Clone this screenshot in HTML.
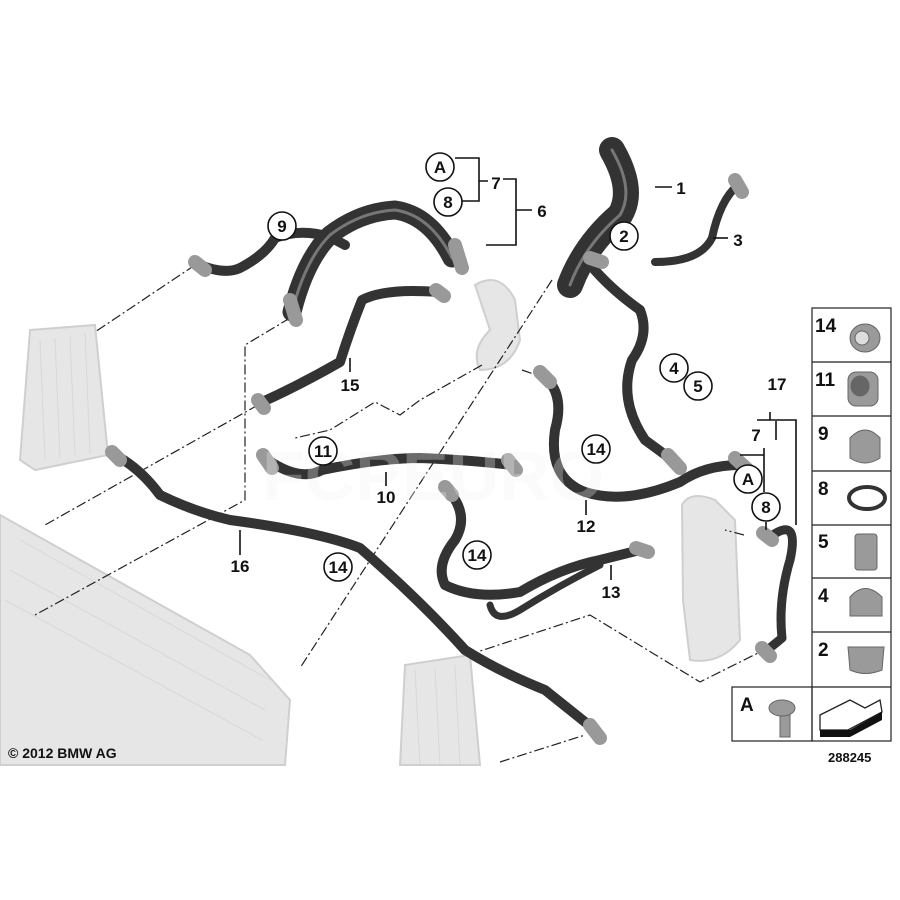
<!DOCTYPE html>
<html><head><meta charset="utf-8"><style>
html,body{margin:0;padding:0;background:#fff}
svg{display:block}
text{font-family:"Liberation Sans",Arial,sans-serif;font-weight:bold;fill:#111}
</style></head><body>
<svg width="900" height="900" viewBox="0 0 900 900" xmlns="http://www.w3.org/2000/svg">
<rect width="900" height="900" fill="#fff"/>
<g fill="#e6e6e6" stroke="#cfcfcf" stroke-width="2">
<polygon points="30,330 95,325 108,455 35,470 20,460"/>
<polygon points="0,515 250,655 290,700 285,765 0,765"/>
<polygon points="405,665 470,655 480,765 400,765"/>
<path d="M682,505 Q690,490 715,500 L735,520 L740,640 Q720,665 690,660 L683,600 Z"/>
<path d="M475,285 Q500,270 515,300 L520,340 Q510,370 480,370 Q470,350 490,330 Z"/>
</g>
<g stroke="#d8d8d8" stroke-width="1" fill="none">
<path d="M40,340 L45,460 M55,338 L60,458 M70,336 L75,456 M85,334 L90,454"/>
<path d="M20,540 L270,680 M10,570 L265,710 M5,600 L262,740"/>
<path d="M415,670 L420,765 M435,668 L440,765 M455,665 L460,765"/>
</g>
<g stroke="#222" stroke-width="1.2" fill="none" stroke-dasharray="10,3,2,3">
<path d="M195,265 L95,332"/>
<path d="M290,318 L245,345 L245,500 L35,615"/>
<path d="M258,405 L45,525"/>
<path d="M552,280 L300,668"/>
<path d="M482,365 L420,400 L400,415 L375,402 L330,430 L295,438"/>
<path d="M468,655 L590,615 L700,682 L768,648"/>
<path d="M500,762 L585,735"/>
<path d="M744,535 L725,530"/>
<path d="M522,370 L545,378"/>
</g>
<g fill="none" stroke-linecap="round" stroke-linejoin="round">
<g stroke="#333">
<path d="M612,150 Q635,190 620,215 Q585,245 570,285" stroke-width="26"/>
<path d="M200,265 Q225,275 240,268 Q265,255 275,238 Q300,228 330,237 L345,245" stroke-width="10"/>
<path d="M292,312 Q305,260 330,235 Q360,212 395,210 Q430,215 452,258" stroke-width="19"/>
<path d="M260,403 Q300,385 340,362 Q350,330 362,300 Q385,288 438,292" stroke-width="10"/>
<path d="M738,185 Q720,200 712,238 Q700,262 655,262" stroke-width="8"/>
<path d="M585,258 Q605,285 640,310 Q650,335 632,360 Q618,400 645,440 L675,462" stroke-width="10"/>
<path d="M545,377 Q565,395 555,430 Q548,478 585,492 Q625,505 680,482 Q705,465 740,465" stroke-width="10"/>
<path d="M268,460 Q300,482 322,470 Q380,458 420,458 Q470,460 512,465" stroke-width="10"/>
<path d="M115,455 Q140,468 160,495 Q195,512 230,520 Q320,532 360,548 Q420,600 465,650 Q500,672 545,690 L595,730" stroke-width="10"/>
<path d="M448,490 Q470,515 455,540 Q435,565 445,585 Q475,600 520,592 Q560,568 600,560 L640,550" stroke-width="10"/>
<path d="M490,605 Q495,625 520,610 Q560,585 600,565" stroke-width="7"/>
<path d="M770,537 Q800,515 790,560 Q778,600 782,638 L765,652" stroke-width="9"/>
</g>
<g stroke="#777" stroke-width="3">
<path d="M612,150 Q635,190 620,215 Q585,245 570,285"/>
<path d="M292,312 Q305,260 330,235 Q360,212 395,210 Q430,215 452,258"/>
</g>
<g stroke="#999" stroke-width="14">
<path d="M590,258 L602,262"/><path d="M455,245 L462,268"/><path d="M290,300 L296,320"/>
<path d="M735,180 L742,192"/><path d="M668,455 L680,468"/><path d="M735,458 L748,470"/>
<path d="M540,372 L550,382"/><path d="M263,455 L272,468"/><path d="M508,460 L516,470"/>
<path d="M112,452 L120,460"/><path d="M590,725 L600,738"/><path d="M445,487 L452,495"/>
<path d="M636,548 L648,552"/><path d="M763,533 L772,540"/><path d="M762,648 L770,656"/>
<path d="M195,262 L205,270"/><path d="M258,400 L264,408"/><path d="M436,290 L444,296"/>
</g>
</g>
<text x="262" y="500" font-size="70" font-weight="normal" style="fill:#f2f2f2;fill-opacity:0.3">FCPEURO</text>
<g stroke="#111" stroke-width="1.6" fill="none">
<path d="M455,158 L479,158 L479,201 L462,201 M479,181 L488,181"/>
<path d="M503,179 L516,179 L516,245 L486,245 M516,210 L532,210"/>
<path d="M655,187 L672,187"/><path d="M713,238 L728,238"/>
<path d="M350,358 L350,372"/><path d="M386,472 L386,486"/><path d="M586,500 L586,515"/>
<path d="M240,530 L240,555"/><path d="M611,565 L611,580"/>
<path d="M770,412 L770,420"/>
<path d="M757,420 L796,420 L796,525"/>
<path d="M740,455 L764,455 L764,492 M764,455 L764,448"/>
<path d="M776,421 L776,440"/>
<path d="M766,522 L766,530"/>
</g>
<g fill="#fff" stroke="#111" stroke-width="1.6">
<circle cx="440" cy="167" r="14"/><circle cx="448" cy="202" r="14"/>
<circle cx="282" cy="226" r="14"/><circle cx="624" cy="236" r="14"/>
<circle cx="674" cy="368" r="14"/><circle cx="698" cy="386" r="14"/>
<circle cx="323" cy="451" r="14"/><circle cx="596" cy="449" r="14"/>
<circle cx="748" cy="479" r="14"/><circle cx="766" cy="507" r="14"/>
<circle cx="477" cy="555" r="14"/><circle cx="338" cy="567" r="14"/>
</g>
<g font-size="17" text-anchor="middle">
<text x="440" y="173">A</text><text x="448" y="208">8</text>
<text x="282" y="232">9</text><text x="624" y="242">2</text>
<text x="674" y="374">4</text><text x="698" y="392">5</text>
<text x="323" y="457">11</text><text x="596" y="455">14</text>
<text x="748" y="485">A</text><text x="766" y="513">8</text>
<text x="477" y="561">14</text><text x="338" y="573">14</text>
<text x="496" y="189">7</text><text x="542" y="217">6</text>
<text x="681" y="194">1</text><text x="738" y="246">3</text>
<text x="350" y="391">15</text><text x="386" y="503">10</text>
<text x="586" y="532">12</text><text x="240" y="572">16</text>
<text x="611" y="598">13</text><text x="777" y="390">17</text>
<text x="756" y="441">7</text>
</g>
<g fill="none" stroke="#222" stroke-width="1.2">
<rect x="812" y="308" width="79" height="433"/>
<rect x="732" y="687" width="80" height="54"/>
<path d="M812,362 H891 M812,416 H891 M812,471 H891 M812,525 H891 M812,578 H891 M812,632 H891 M812,687 H891"/>
</g>
<g font-size="19">
<text x="815" y="332">14</text><text x="815" y="386">11</text><text x="818" y="440">9</text>
<text x="818" y="495">8</text><text x="818" y="548">5</text><text x="818" y="602">4</text>
<text x="818" y="656">2</text><text x="740" y="711">A</text>
</g>
<g fill="#9a9a9a" stroke="#666" stroke-width="1">
<ellipse cx="865" cy="338" rx="15" ry="14"/><ellipse cx="862" cy="338" rx="7" ry="7" fill="#ddd"/>
<rect x="848" y="372" width="30" height="34" rx="8"/><ellipse cx="860" cy="386" rx="9" ry="10" fill="#666"/>
<path d="M850,438 Q865,422 880,438 L880,458 Q865,468 850,458 Z"/>
<rect x="855" y="534" width="22" height="36" rx="3"/>
<path d="M850,597 Q865,580 882,597 L882,616 L850,616 Z"/>
<path d="M848,647 L884,647 L882,670 Q865,677 850,670 Z"/>
<rect x="780" y="715" width="10" height="22"/><ellipse cx="782" cy="708" rx="13" ry="8"/>
</g>
<ellipse cx="867" cy="498" rx="18" ry="11" fill="none" stroke="#333" stroke-width="4"/>
<g>
<polygon points="820,715 850,700 865,708 880,700 882,712 848,730 820,730" fill="#fff" stroke="#222" stroke-width="1.3"/>
<polygon points="820,730 850,730 850,737 820,737" fill="#111"/>
<polygon points="850,730 882,712 882,720 850,737" fill="#111"/>
</g>
<text x="8" y="758" font-size="14">© 2012 BMW AG</text>
<text x="828" y="762" font-size="13" font-weight="normal">288245</text>
</svg>
</body></html>
